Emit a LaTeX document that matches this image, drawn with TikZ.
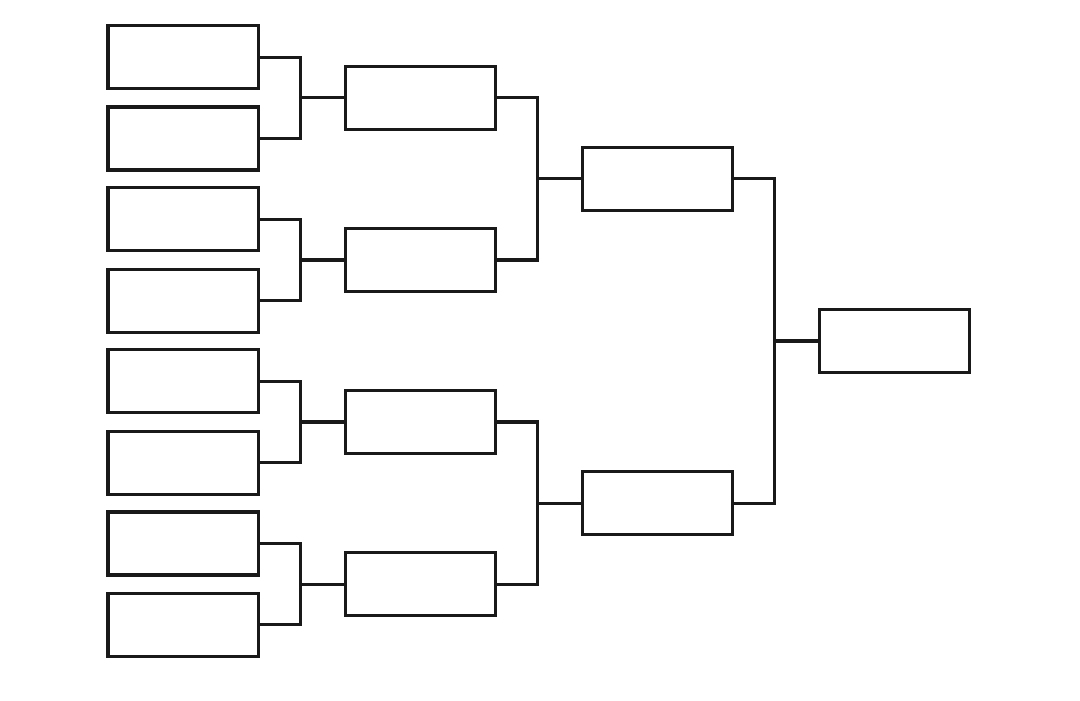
\documentclass[tikz,border=0pt]{standalone}
\usetikzlibrary{trees}
\tikzset{
  slot/.style={draw=black!90,line width=0.9pt,minimum width=1.50cm,minimum height=0.63cm,inner sep=0pt}
}
\begin{document}
\begin{tikzpicture}[
          x=0.01cm,y=-0.01cm,
          grow=left,
          level distance=2.37cm,
          level 1/.style={sibling distance=3.24cm},
          level 2/.style={sibling distance=1.62cm},
          level 3/.style={sibling distance=0.813cm},
          edge from parent/.style={draw=black!90,line width=0.9pt},
          edge from parent path={(\tikzparentnode.west) -- ++(-0.43cm,0) |- (\tikzchildnode.east)}
        ]
        \useasboundingbox (0,0) rectangle (1080,700);
        \node[slot] (final) at (894.5,341) {}
          child {node[slot] (semi1) {}
            child {node[slot] (qf1) {}
              child {node[slot] (r1) {}}
              child {node[slot] (r2) {}}
            }
            child {node[slot] (qf2) {}
              child {node[slot] (r3) {}}
              child {node[slot] (r4) {}}
            }
          }
          child {node[slot] (semi2) {}
            child {node[slot] (qf3) {}
              child {node[slot] (r5) {}}
              child {node[slot] (r6) {}}
            }
            child {node[slot] (qf4) {}
              child {node[slot] (r7) {}}
              child {node[slot] (r8) {}}
            }
          };
        \end{tikzpicture}
\end{document}
